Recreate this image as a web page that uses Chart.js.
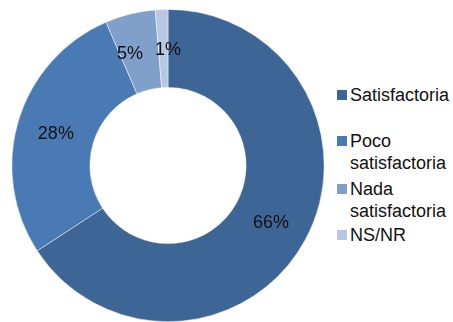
<!DOCTYPE html>
<html>
<head>
<meta charset="utf-8">
<script src="https://cdn.jsdelivr.net/npm/chart.js@4/dist/chart.umd.min.js"></script>
<style>
  html, body { margin: 0; padding: 0; background: #fff; }
  body { width: 453px; height: 322px; position: relative; overflow: hidden;
         font-family: 'Liberation Sans', Arial, sans-serif; }
  .chart-box { position: absolute; left: 0; top: 0; width: 336px; height: 322px; }
  .legend { position: absolute; left: 337px; top: 0; width: 112px; }
  .legend .item { position: absolute; left: 0; width: 112px; font-size: 18px; line-height: 22px;
                  color: #111; padding-left: 13px; box-sizing: border-box; }
  .legend .sw { position: absolute; left: 0; top: 6px; width: 10px; height: 10px; }
</style>
</head>
<body>
<div class="chart-box"><canvas id="chart-dona"></canvas></div>
<div class="legend" id="legend"></div>
<script>
/* ---- Datos ---- */
const categorias = ['Satisfactoria', 'Poco satisfactoria', 'Nada satisfactoria', 'NS/NR'];
const porcentajes = [65.8, 27.7, 5.2, 1.3];
const colores = ['#3d6696', '#4a7ab4', '#809fcb', '#b8c8e3'];

/* etiquetas % en el centro de cada porción (con separación si se pisan) */
const etiquetas = {
  id: 'etiquetas',
  afterDatasetsDraw(chart) {
    const ctx = chart.ctx;
    const meta = chart.getDatasetMeta(0);
    ctx.save();
    ctx.font = "18px 'Liberation Sans', Arial, sans-serif";
    ctx.fillStyle = '#111';
    ctx.textAlign = 'center';
    ctx.textBaseline = 'middle';
    const labs = meta.data.map((arc, i) => {
      const p = arc.tooltipPosition();
      const txt = Math.round(porcentajes[i]) + '%';
      return { txt, x: p.x, y: p.y + 2, w: ctx.measureText(txt).width };
    });
    for (let i = 1; i < labs.length; i++) {
      const a = labs[i - 1], b = labs[i];
      if (Math.abs(a.y - b.y) > 16) continue;
      const gap = Math.abs(b.x - a.x) - (a.w + b.w) / 2;
      if (gap < 12) {
        const need = 12 - gap, dir = a.x < b.x ? 1 : -1;
        a.x -= dir * need * 2 / 3;
        b.x += dir * need / 3;
      }
    }
    labs.forEach(l => ctx.fillText(l.txt, l.x, l.y));
    ctx.restore();
  }
};

const chart = new Chart(document.getElementById('chart-dona'), {
  type: 'doughnut',
  data: {
    labels: categorias,
    datasets: [{
      data: porcentajes,
      backgroundColor: colores,
      borderColor: 'rgba(255,255,255,.6)',
      borderWidth: 0.75,
    }]
  },
  options: {
    responsive: true, maintainAspectRatio: false, animation: false,
    cutout: '50%',
    layout: { padding: { top: 9, bottom: 0 } },
    plugins: { legend: { display: false }, tooltip: { enabled: false } }
  },
  plugins: [etiquetas]
});

/* ---- Leyenda HTML ---- */
const legend = document.getElementById('legend');
const tops = [84, 130, 178, 224];
chart.options.plugins.legend.labels.generateLabels(chart).forEach((it, i) => {
  const d = document.createElement('div');
  d.className = 'item';
  d.style.top = tops[i] + 'px';
  d.innerHTML = '<span class="sw" style="background:' + it.fillStyle + '"></span>' + it.text;
  legend.appendChild(d);
});
</script>
</body>
</html>
